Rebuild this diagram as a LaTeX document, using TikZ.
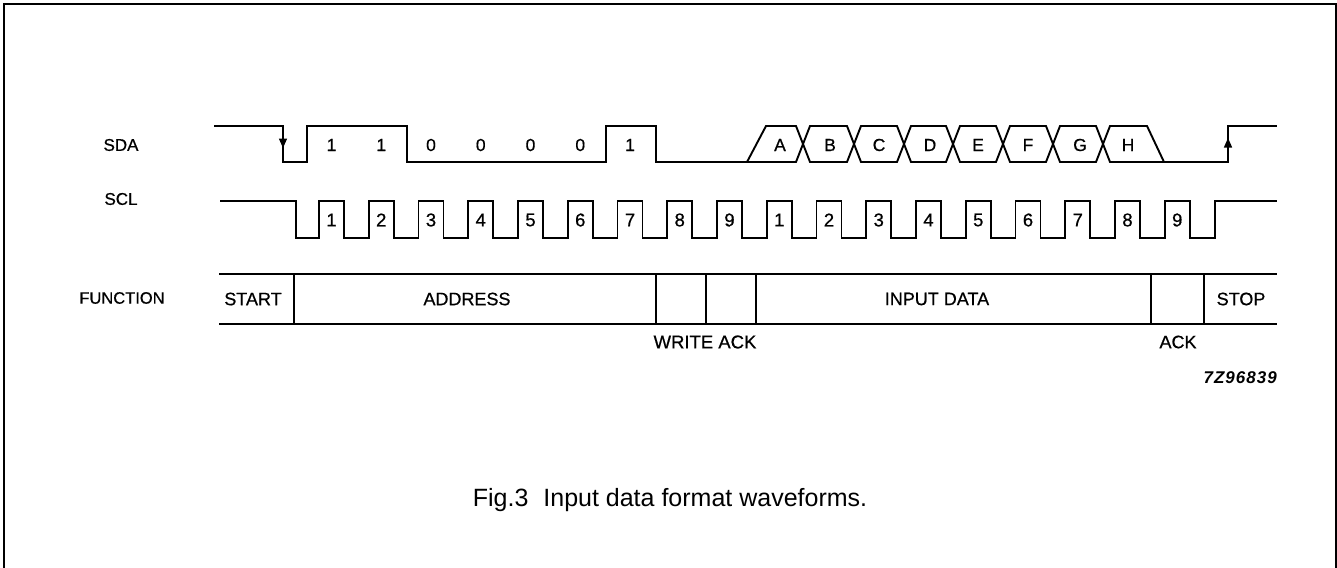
\documentclass[tikz,border=0pt]{standalone}
\usepackage{fontspec}
\setmainfont{Liberation Sans}
\newfontfamily\heavy[FakeBold=0.6]{Liberation Sans}
\usetikzlibrary{arrows.meta}
\begin{document}
\begin{tikzpicture}[x=1pt,y=-1pt,
  wave/.style={line width=1.9pt, line join=miter, line cap=butt},
  lbl/.style={font=\heavy\fontsize{18}{20}\selectfont, inner sep=0pt},
  bit/.style={font=\heavy\fontsize{17.5}{20}\selectfont, inner sep=0pt},
  frame/.style={line width=1.6pt}]
\useasboundingbox (0,0) rectangle (1337,567);
\draw[frame] (4,575) -- (4,4) -- (1336,4) -- (1336,575);

% row labels
\node[lbl, font=\heavy\fontsize{17}{20}\selectfont] (sda) at (121,145) {SDA};
\node[lbl, font=\heavy\fontsize{17}{20}\selectfont] (scl) at (121,199) {SCL};
\node[lbl, font=\heavy\fontsize{16.5}{20}\selectfont] (fn)  at (122,298) {FUNCTION};

% SDA waveform (address part)
\draw[wave] (214,126) -- (283,126) -- (283,162) -- (307,162) -- (307,126)
  -- (407,126) -- (407,162) -- (606,162) -- (606,126) -- (656,126)
  -- (656,162) -- (747,162);
\fill (278.8,138.5) -- (287.2,138.5) -- (283,148) -- cycle;
\foreach \b [count=\k from 0] in {1,1,0,0,0,0,1}
  \node[bit] (sb\k) at ({331.5+49.75*\k},145) {\b};

% SDA data bytes
\draw[wave] (747,162) -- (766,126) -- (796,126) -- (803,144) -- (796,162) -- cycle;
\foreach \l/\r in {803/854,854/904,904/953,953/1003,1003/1053,1053/1103}
  \draw[wave] (\l,144) -- ({\l+7},126) -- ({\r-7},126) -- (\r,144) -- ({\r-7},162) -- ({\l+7},162) -- cycle;
\draw[wave] (1103,144) -- (1110,126) -- (1147,126) -- (1164,162) -- (1110,162) -- cycle;
\draw[wave] (1164,162) -- (1228,162) -- (1228,126) -- (1277,126);
\fill (1223.8,147.5) -- (1232.2,147.5) -- (1228,138) -- cycle;
\foreach \t/\x in {A/780,B/830,C/879,D/930,E/978,F/1028,G/1080,H/1128}
  \node[bit] (d\t) at (\x,145) {\t};

% SCL waveform
\draw[wave] (220,201) -- (296,201) -- (296,238)
  foreach \k in {0,...,17} { -- ({319+49.75*\k},238) -- ({319+49.75*\k},201)
     -- ({344+49.75*\k},201) -- ({344+49.75*\k},238) }
  -- (1215,238) -- (1215,201) -- (1277,201);
\foreach \n [count=\k from 0] in {1,2,3,4,5,6,7,8,9,1,2,3,4,5,6,7,8,9}
  \node[bit, font=\heavy\fontsize{18.5}{20}\selectfont] (c\k) at ({331.5+49.75*\k},220) {\n};

% FUNCTION row
\draw[wave] (219,274) -- (1277,274);
\draw[wave] (219,324) -- (1277,324);
\foreach \x in {294,656,706,756,1151,1204}
  \draw[wave] (\x,274) -- (\x,324);
\node[lbl] (fstart) at (253,299) {START};
\node[lbl] (faddr)  at (467,299) {ADDRESS};
\node[lbl] (fdata)  at (937,299) {INPUT DATA};
\node[lbl] (fstop)  at (1241,299) {STOP};
\node[lbl, font=\heavy\fontsize{18.5}{20}\selectfont] (fwack)  at (705,342) {WRITE ACK};
\node[lbl] (fack)   at (1178,342) {ACK};
\node[font=\fontsize{17}{20}\selectfont\bfseries\itshape\addfontfeature{LetterSpace=6}, inner sep=0pt, anchor=east] (code) at (1277,378) {7Z96839};

% caption
\node[font=\fontsize{25}{28}\selectfont, inner sep=0pt] (cap) at (670,500) {Fig.3\hspace{0.6em}Input data format waveforms.};
\end{tikzpicture}
\end{document}
